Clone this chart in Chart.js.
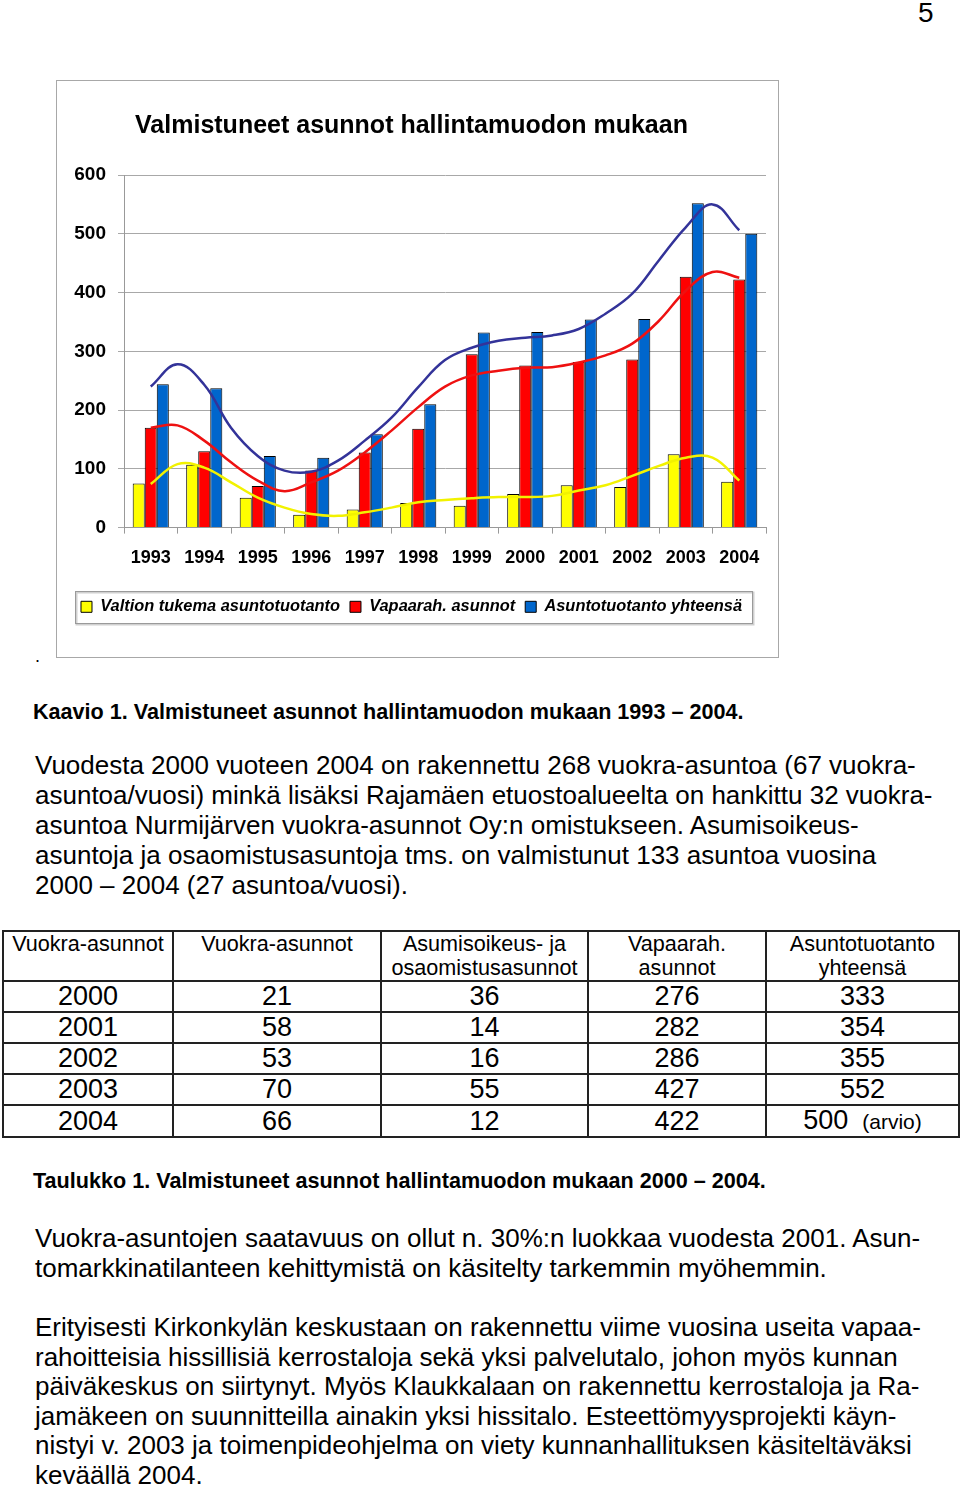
<!DOCTYPE html>
<html>
<head>
<meta charset="utf-8">
<script src="https://cdn.jsdelivr.net/npm/chart.js@4.4.1/dist/chart.umd.min.js"></script>
<style>
body{margin:0;width:960px;height:1486px;position:relative;background:#fff;font-family:"Liberation Sans",Arial,sans-serif;color:#000;overflow:hidden}
.abs{position:absolute;white-space:pre}
#box{position:absolute;left:56px;top:80px;width:723px;height:578px;border:1px solid #a8a8a8;box-sizing:border-box}
#box canvas{position:absolute;left:0;top:0}
.txt{font-size:26px;line-height:30px;left:35px}
.cap{font-weight:bold;font-size:21.6px;line-height:24px;left:33px}
#tbl{position:absolute;left:2px;top:930px;border-collapse:collapse;font-size:27px;table-layout:fixed}
#tbl td{border:2px solid #222;text-align:center;padding:0;height:29px;line-height:29px}
#tbl tr.h td{font-size:21.6px;line-height:24px;height:48px;vertical-align:top}
#tbl small{font-size:21px;margin-left:14px}
</style>
</head>
<body>
<div class="abs" style="left:918px;top:-3px;font-size:28px">5</div>

<div id="box"><canvas id="myChart" width="721" height="576"></canvas></div>

<div class="abs" style="left:35px;top:646px;font-size:18px">.</div>
<div class="abs cap" style="top:700px">Kaavio 1. Valmistuneet asunnot hallintamuodon mukaan 1993 – 2004.</div>

<div class="abs txt" style="top:750px">Vuodesta 2000 vuoteen 2004 on rakennettu 268 vuokra-asuntoa (67 vuokra-
asuntoa/vuosi) minkä lisäksi Rajamäen etuostoalueelta on hankittu 32 vuokra-
asuntoa Nurmijärven vuokra-asunnot Oy:n omistukseen. Asumisoikeus-
asuntoja ja osaomistusasuntoja tms. on valmistunut 133 asuntoa vuosina
2000 – 2004 (27 asuntoa/vuosi).</div>

<table id="tbl">
<colgroup><col style="width:170px"><col style="width:208px"><col style="width:207px"><col style="width:178px"><col style="width:193px"></colgroup>
<tbody id="tbody"></tbody>
</table>

<div class="abs cap" style="top:1169px">Taulukko 1. Valmistuneet asunnot hallintamuodon mukaan 2000 – 2004.</div>

<div class="abs txt" style="top:1223px">Vuokra-asuntojen saatavuus on ollut n. 30%:n luokkaa vuodesta 2001. Asun-
tomarkkinatilanteen kehittymistä on käsitelty tarkemmin myöhemmin.</div>

<div class="abs txt" style="top:1313px;line-height:29.5px">Erityisesti Kirkonkylän keskustaan on rakennettu viime vuosina useita vapaa-
rahoitteisia hissillisiä kerrostaloja sekä yksi palvelutalo, johon myös kunnan
päiväkeskus on siirtynyt. Myös Klaukkalaan on rakennettu kerrostaloja ja Ra-
jamäkeen on suunnitteilla ainakin yksi hissitalo. Esteettömyysprojekti käyn-
nistyi v. 2003 ja toimenpideohjelma on viety kunnanhallituksen käsiteltäväksi
keväällä 2004.</div>

<script>
// chart data
var years = [1993, 1994, 1995, 1996, 1997, 1998, 1999, 2000, 2001, 2002, 2003, 2004];
var valtion = [75, 107, 51, 22, 31, 42, 37, 57, 72, 69, 125, 78];
var vapaarah = [170, 130, 71, 97, 128, 168, 295, 276, 282, 286, 427, 422];
var yhteensa = [244, 237, 122, 119, 159, 210, 332, 333, 354, 355, 552, 500];
var yTicks = [0, 100, 200, 300, 400, 500, 600];

// trend lines, read at half-year steps
var trendYears = [1993, 1993.5, 1994, 1994.5, 1995, 1995.5, 1996, 1996.5, 1997, 1997.5, 1998, 1998.5,
                  1999, 1999.5, 2000, 2000.5, 2001, 2001.5, 2002, 2002.5, 2003, 2003.5, 2004];
var trendValtion = [74, 108, 102, 77, 51, 34, 23, 20, 26, 34, 43, 47, 50, 52, 52, 54, 63, 72, 88, 105, 119, 119, 80];
var trendVapaarah = [170, 174, 148, 111, 80, 62, 77, 97, 128, 165, 205, 240, 259, 267, 272, 273, 281, 293, 313, 352, 403, 435, 425];
var trendYhteensa = [240, 278, 243, 170, 122, 97, 95, 114, 148, 187, 239, 285, 306, 318, 323, 327, 338, 364, 398, 455, 511, 550, 506];

// table 1
var tblHead = ['Vuokra-asunnot', 'Vuokra-asunnot', 'Asumisoikeus- ja\nosaomistusasunnot', 'Vapaarah.\nasunnot', 'Asuntotuotanto\nyhteensä'];
var tblYears = ['2000', '2001', '2002', '2003', '2004'];
var tblVuokraA = [21, 58, 53, 70, 66];
var tblAsumis = [36, 14, 16, 55, 12];
var tblVapaarah = [276, 282, 286, 427, 422];
var tblYht = [333, 354, 355, 552, 500];

var tbody = document.getElementById('tbody');
var html = '<tr class="h">' + tblHead.map(function (h) { return '<td>' + h.replace('\n', '<br>') + '</td>'; }).join('') + '</tr>';
for (var i = 0; i < tblYears.length; i++) {
    var last = tblYht[i] + (i === tblYears.length - 1 ? '<small>(arvio)</small>' : '');
    html += '<tr><td>' + tblYears[i] + '</td><td>' + tblVuokraA[i] + '</td><td>' + tblAsumis[i] +
            '</td><td>' + tblVapaarah[i] + '</td><td>' + last + '</td></tr>';
}
tbody.innerHTML = html;

var fam = '"Liberation Sans", Arial, sans-serif';

function pts(xs, vals) {
    return vals.map(function (v, i) { return {x: xs[i], y: v}; });
}

// border round the legend, like the excel legend box
var legendBox = {
    id: 'legendBox',
    afterDraw: function (chart) {
        var hb = chart.legend.legendHitBoxes;
        if (!hb || !hb.length) return;
        var left = Math.min.apply(null, hb.map(function (h) { return h.left; })) - 6;
        var right = Math.max.apply(null, hb.map(function (h) { return h.left + h.width; })) + 10;
        var cy = hb[0].top + hb[0].height / 2;
        var c = chart.ctx;
        c.save();
        c.strokeStyle = '#d0d0d0';
        c.lineWidth = 2;
        c.strokeRect(Math.round(left) + 1.5, Math.round(cy - 16) + 1.5, Math.round(right - left), 32);
        c.strokeStyle = '#9a9a9a';
        c.lineWidth = 1;
        c.strokeRect(Math.round(left) + 0.5, Math.round(cy - 16) + 0.5, Math.round(right - left), 32);
        c.restore();
    }
};

var ctx = document.getElementById('myChart').getContext('2d');
var chart = new Chart(ctx, {
    type: 'bar',
    data: {
        datasets: [
            {label: 'Valtion tukema asuntotuotanto', data: pts(years, valtion), backgroundColor: '#ffff00', borderColor: '#000', borderWidth: 1, order: 2},
            {label: 'Vapaarah. asunnot', data: pts(years, vapaarah), backgroundColor: '#ff0000', borderColor: '#000', borderWidth: 1, order: 2},
            {label: 'Asuntotuotanto yhteensä', data: pts(years, yhteensa), backgroundColor: '#0066cc', borderColor: '#000', borderWidth: 1, order: 2},
            {type: 'line', label: 'trend yhteensa', data: pts(trendYears, trendYhteensa), borderColor: '#333399', borderWidth: 2.5, pointRadius: 0, tension: 0.4, fill: false, order: 0},
            {type: 'line', label: 'trend vapaarah', data: pts(trendYears, trendVapaarah), borderColor: '#ee1111', borderWidth: 2.5, pointRadius: 0, tension: 0.4, fill: false, order: 0},
            {type: 'line', label: 'trend valtion', data: pts(trendYears, trendValtion), borderColor: '#f2f200', borderWidth: 2.5, pointRadius: 0, tension: 0.4, fill: false, order: 0}
        ]
    },
    options: {
        responsive: false,
        animation: false,
        layout: {padding: {left: 0, right: 12, top: 0, bottom: 32}},
        datasets: {bar: {categoryPercentage: 0.675, barPercentage: 1}},
        plugins: {
            title: {
                display: true,
                text: 'Valmistuneet asunnot hallintamuodon mukaan',
                color: '#000',
                font: {family: fam, size: 25, weight: 'bold', lineHeight: 1.2},
                padding: {top: 30, bottom: 34}
            },
            legend: {
                position: 'bottom',
                labels: {
                    boxWidth: 11,
                    boxHeight: 11,
                    padding: 10,
                    color: '#000',
                    font: {family: fam, size: 16.4, weight: 'bold', style: 'italic'},
                    filter: function (item, data) { return data.datasets[item.datasetIndex].type !== 'line'; }
                }
            },
            tooltip: {enabled: false}
        },
        scales: {
            x: {
                type: 'linear',
                offset: false,
                min: years[0] - 0.5,
                max: years[years.length - 1] + 0.5,
                afterBuildTicks: function (s) { s.ticks = years.map(function (v) { return {value: v}; }); },
                grid: {offset: true, drawOnChartArea: false, tickLength: 6, color: '#999'},
                border: {color: '#999'},
                ticks: {
                    color: '#000', padding: 14, autoSkip: false, maxRotation: 0,
                    font: {family: fam, size: 18, weight: 'bold'},
                    callback: function (v) { return String(v); }
                },
                afterFit: function (s) { s.height = 61; }
            },
            y: {
                min: yTicks[0],
                max: yTicks[yTicks.length - 1],
                afterBuildTicks: function (s) { s.ticks = yTicks.map(function (v) { return {value: v}; }); },
                grid: {color: '#a8a8a8', tickLength: 6},
                border: {color: '#999'},
                ticks: {color: '#000', padding: 12, font: {family: fam, size: 19, weight: 'bold'}},
                afterFit: function (s) { s.width = 67; }
            }
        }
    },
    plugins: [legendBox]
});
</script>
</body>
</html>
